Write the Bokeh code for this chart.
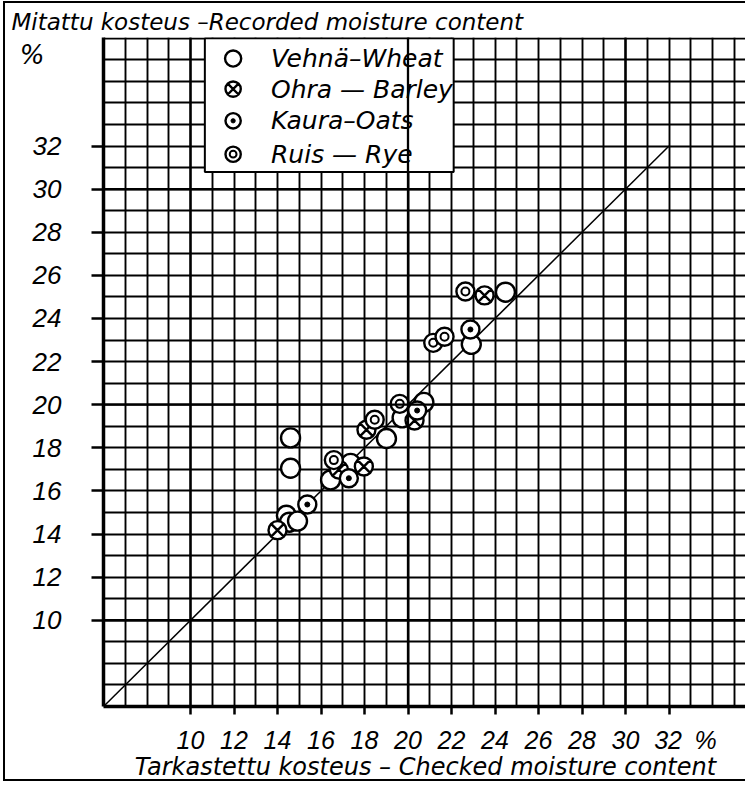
from bokeh.plotting import figure
from bokeh.models import Range1d, FixedTicker, Span, LinearAxis
from bokeh.core.properties import value
from bokeh.embed import file_html
from bokeh.resources import INLINE

# ---- data (checked moisture %, recorded moisture %) ----
wheat_checked = [14.60, 14.60, 24.48, 22.91, 20.73, 19.73, 19.01, 17.36, 16.44, 14.41, 14.55, 14.92]
wheat_recorded = [18.46, 17.05, 25.22, 22.80, 20.11, 19.39, 18.43, 17.28, 16.51, 14.87, 14.55, 14.60]

barley_checked = [23.52, 20.30, 18.09, 17.97, 14.00, 16.82]
barley_recorded = [25.07, 19.27, 18.84, 17.13, 14.18, 16.99]

oats_checked = [22.87, 20.42, 17.28, 15.37]
oats_recorded = [23.49, 19.73, 16.59, 15.37]

rye_checked = [22.64, 21.16, 21.68, 19.62, 18.47, 16.59]
rye_recorded = [25.25, 22.87, 23.15, 20.04, 19.30, 17.43]

series_labels = ["Vehnä–Wheat", "Ohra — Barley", "Kaura–Oats", "Ruis — Rye"]
tick_values = [10, 12, 14, 16, 18, 20, 22, 24, 26, 28, 30, 32]
diagonal = [6, 32]
title_y = "Mitattu kosteus –Recorded moisture content"
title_x = "Tarkastettu kosteus – Checked moisture content"

# ---- layout ----
PX = 21.75                     # pixels per 1 % unit
W, H = 742, 780
ML, MT, MB = 98, 34, 71
X0 = 6.0
x_end = X0 + (W - ML) / PX
y_end = X0 + (H - MT - MB) / PX

TEXT_FONT = "DejaVu Sans"
NUM_FONT = "Liberation Sans"

p = figure(width=W, height=H, x_range=Range1d(X0, x_end), y_range=Range1d(X0, y_end),
           output_backend="svg", toolbar_location=None,
           min_border_left=ML, min_border_right=0, min_border_top=MT, min_border_bottom=MB)
p.outline_line_color = None
p.background_fill_color = "white"
p.border_fill_color = "white"
p.styles = {"margin-left": "3px", "margin-top": "1px",
            "border-left": "2px solid black", "border-top": "2px solid black",
            "border-bottom": "2px solid black"}

# title (top-left, horizontal)
p.title.text = title_y
p.title.align = "left"
p.title.offset = -92
p.title.standoff = 6
p.title.text_font = TEXT_FONT
p.title.text_font_style = "italic"
p.title.text_font_size = "23px"
p.title.text_color = "black"

# grid: every 1 %
p.xgrid.ticker = FixedTicker(ticks=list(range(6, 36)))
p.ygrid.ticker = FixedTicker(ticks=list(range(6, 38)))
for g in (p.xgrid, p.ygrid):
    g.grid_line_color = "black"
    g.grid_line_width = 1.9
    g.grid_line_alpha = 1.0
for v in (10, 20, 30):
    p.add_layout(Span(location=v, dimension="height", line_color="black", line_width=2.3))
    p.add_layout(Span(location=v, dimension="width", line_color="black", line_width=2.3))

# axes
for ax in (p.xaxis, p.yaxis):
    ax.ticker = FixedTicker(ticks=tick_values)
    ax.major_tick_in = 0
    ax.major_tick_line_width = 2.5
    ax.minor_tick_in = 0
    ax.minor_tick_out = 0
    ax.axis_line_width = 3.5
    ax.major_label_text_font = NUM_FONT
    ax.major_label_text_font_style = "italic"
    ax.major_label_text_color = "black"
p.xaxis.major_label_text_font_size = "25px"
p.yaxis.major_label_text_font_size = "26px"
p.xaxis.major_tick_out = 8
p.yaxis.major_tick_out = 12
p.xaxis.major_label_standoff = 11
p.yaxis.major_label_standoff = 30
# "%" unit after the last x tick label (padded so that "32" stays centred on its tick)
p.xaxis.major_label_overrides = {32: "\u2007\u2007\u2009" + "32" + "\u2002" + "%"}
p.xaxis.axis_label = title_x
p.xaxis.axis_label_standoff = -4
p.xaxis.axis_label_text_font = TEXT_FONT
p.xaxis.axis_label_text_font_style = "italic"
p.xaxis.axis_label_text_font_size = "24px"
p.xaxis.axis_label_text_color = "black"

# unit mark "%" above the y tick labels
pct_axis = LinearAxis(ticker=FixedTicker(ticks=[36.2]), major_label_overrides={36.2: "%"},
                      axis_line_color=None, major_tick_out=0, major_tick_in=0,
                      minor_tick_out=0, minor_tick_in=0, major_label_standoff=-15,
                      major_label_text_font=TEXT_FONT, major_label_text_font_style="italic",
                      major_label_text_font_size="26px", major_label_text_color="black")
p.add_layout(pct_axis, "left")

# diagonal reference line
p.line(diagonal, diagonal, line_color="black", line_width=1.5)

# markers
LW = 2.4
def wheat(x, y, s=1.0):
    p.scatter(x, y, marker="circle", size=19 * s, line_color="black", line_width=LW, fill_color="white")

def barley(x, y, s=1.0):
    p.scatter(x, y, marker="circle_x", size=18 * s, line_color="black", line_width=LW, fill_color="white")

def oats(x, y, s=1.0):
    p.scatter(x, y, marker="circle", size=18 * s, line_color="black", line_width=LW, fill_color="white")
    p.scatter(x, y, marker="circle", size=5 * s, line_color="black", line_width=1, fill_color="black")

def rye(x, y, s=1.0):
    p.scatter(x, y, marker="circle", size=18 * s, line_color="black", line_width=LW, fill_color="white")
    p.scatter(x, y, marker="circle", size=8 * s, line_color="black", line_width=2, fill_color=None)

wheat(wheat_checked, wheat_recorded)
barley(barley_checked, barley_recorded)
oats(oats_checked, oats_recorded)
rye(rye_checked, rye_recorded)

# legend box (drawn inside the grid like the original)
p.quad(left=[10.66], right=[22.1], bottom=[30.79], top=[37.0],
       fill_color="white", line_color="black", line_width=2)
leg_rows = [36.06, 34.64, 33.17, 31.62]
leg_x = 11.96
wheat([leg_x], [leg_rows[0]], 0.85)
barley([leg_x], [leg_rows[1]], 0.85)
oats([leg_x], [leg_rows[2]], 0.85)
rye([leg_x], [leg_rows[3]], 0.85)
p.text(x=[13.7] * 4, y=leg_rows, text=series_labels,
       text_font=value(TEXT_FONT), text_font_style="italic", text_font_size="25px",
       text_baseline="middle", text_align="left", text_color="black")

open("out.html", "w").write(file_html(p, INLINE))
